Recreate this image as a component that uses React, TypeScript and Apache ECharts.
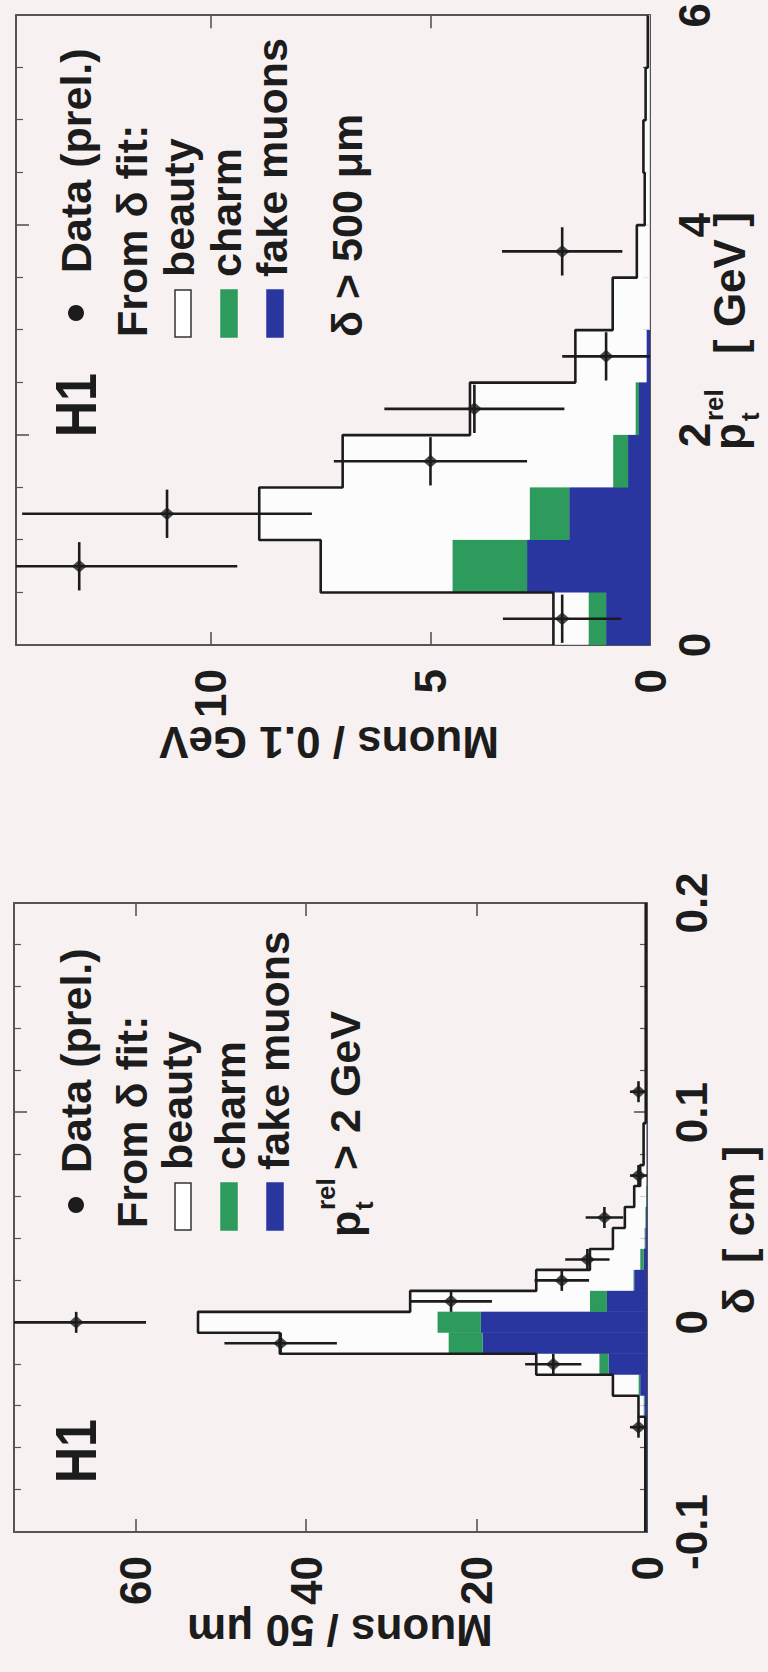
import React, { useEffect, useRef } from "react";
import * as echarts from "echarts";

// ---------- data: lower panel (delta distribution, pt_rel > 2 GeV) ----------
const deltaEdges = [-0.1, -0.045, -0.035, -0.025, -0.015, -0.005, 0.005, 0.015, 0.025, 0.035, 0.045, 0.055, 0.065, 0.075, 0.095, 0.2];
const deltaFake = [0.1, 0.3, 0.8, 4.5, 19.3, 19.5, 4.7, 1.5, 0.4, 0.2, 0.1, 0.05, 0.05, 0.05, 0];
const deltaCharm = [0.05, 0.1, 0.2, 1.1, 4.0, 5.1, 2.0, 0.1, 0.4, 0.1, 0.1, 0.05, 0, 0, 0];
const deltaBeauty = [0.05, 0.6, 3.0, 7.4, 19.8, 28.1, 21.1, 11.4, 5.9, 3.7, 2.4, 1.4, 0.75, 0.35, 0.15];
const deltaPtsX = [-0.05, -0.02, -0.01, 0.0, 0.01, 0.02, 0.03, 0.05, 0.07, 0.11];
const deltaPtsY = [1, 11, 43, 67, 23, 10, 7, 5, 1, 1];
const deltaPtsErr = [1.0, 3.3, 6.6, 8.2, 4.8, 3.2, 2.6, 2.2, 1.0, 1.0];
const deltaHalfWidth = 0.005;
const deltaTicks = { min: -0.1, max: 0.2, interval: 0.1 };
const deltaCountMax = 74.3;
const deltaCountInterval = 20;

// ---------- data: upper panel (pt_rel distribution, delta > 500 um) ----------
const ptEdges = [0, 0.5, 1, 1.5, 2, 2.5, 3, 3.5, 4, 4.5, 5, 5.5, 6];
const ptFake = [1.0, 2.8, 1.84, 0.5, 0.25, 0.08, 0, 0, 0, 0, 0, 0];
const ptCharm = [0.4, 1.7, 0.9, 0.34, 0.08, 0, 0, 0, 0, 0, 0, 0];
const ptBeauty = [0.8, 3.0, 6.16, 6.16, 3.77, 1.62, 0.85, 0.3, 0.12, 0.15, 0.1, 0.05];
const ptPtsX = [0.25, 0.75, 1.25, 1.75, 2.25, 2.75, 3.75];
const ptPtsY = [2, 13, 11, 5, 4, 1, 2];
const ptPtsErr = [1.35, 3.6, 3.3, 2.2, 2.05, 1.0, 1.37];
const ptHalfWidth = 0.23;
const ptTicks = { min: 0, max: 6, interval: 2 };
const ptCountMax = 14.44;
const ptCountInterval = 5;

// ---------- style ----------
const BG = "#f8f1f1";
const INK = "#1c1c1c";
const FRAME = "#555555";
const BLUE = "#2a36a0";
const GREEN = "#2d9b5c";
const WHITE = "rgba(255,255,255,0.75)";
const FONT = '"Liberation Sans", Arial, Helvetica, sans-serif';

function binData(edges: number[], f: number[], c: number[], b: number[]) {
  return f.map((_, i) => [edges[i], edges[i + 1], f[i], c[i], b[i]]);
}
function outlineData(edges: number[], f: number[], c: number[], b: number[]) {
  const tot = f.map((v, i) => v + c[i] + b[i]);
  const pts = tot.map((t, i) => [edges[i], t]);
  pts.push([edges[edges.length - 1], tot[tot.length - 1]]);
  return pts;
}
function pointData(xs: number[], ys: number[], es: number[], hw: number) {
  return xs.map((x, i) => [x, ys[i], hw, es[i]]);
}

const fillRender = (params: any, api: any) => {
  const x0 = api.value(0), x1 = api.value(1);
  const f = api.value(2), c = api.value(3), b = api.value(4);
  const rect = (lo: number, hi: number, color: string) => {
    const p0 = api.coord([x0, lo]);
    const p1 = api.coord([x1, hi]);
    return {
      type: "rect",
      shape: { x: p0[0], y: p1[1], width: p1[0] - p0[0] + 0.6, height: p0[1] - p1[1] },
      style: { fill: color },
    };
  };
  return {
    type: "group",
    children: [rect(0, f, BLUE), rect(f, f + c, GREEN), rect(f + c, f + c + b, WHITE)],
  };
};

const errRender = (params: any, api: any) => {
  const cs = params.coordSys;
  const clampY = (v: number) => Math.max(cs.y, Math.min(cs.y + cs.height, v));
  const clampX = (v: number) => Math.max(cs.x, Math.min(cs.x + cs.width, v));
  const x = api.value(0), y = api.value(1), hw = api.value(2), e = api.value(3);
  const a = api.coord([x - hw, y]);
  const b = api.coord([x + hw, y]);
  const c = api.coord([x, y - e]);
  const d = api.coord([x, y + e]);
  const st = { stroke: INK, lineWidth: 2.6 };
  return {
    type: "group",
    children: [
      { type: "line", shape: { x1: clampX(a[0]), y1: a[1], x2: clampX(b[0]), y2: b[1] }, style: st },
      { type: "line", shape: { x1: c[0], y1: clampY(c[1]), x2: d[0], y2: clampY(d[1]) }, style: st },
    ],
  };
};

const labelStyle = { fontSize: 44, fontWeight: "bold" as const, color: INK, fontFamily: FONT };

function xAxisPair(grid: number, t: { min: number; max: number; interval: number }, minorSplit: number) {
  const base = {
    gridIndex: grid,
    type: "value",
    min: t.min,
    max: t.max,
    interval: t.interval,
    axisLine: { onZero: false, lineStyle: { color: FRAME, width: 2 } },
    axisTick: { inside: true, length: 13, lineStyle: { color: FRAME, width: 1.6 } },
    minorTick: { show: true, splitNumber: minorSplit, length: 7, lineStyle: { color: FRAME, width: 1.2 } },
    splitLine: { show: false },
    minorSplitLine: { show: false },
  };
  return [
    { ...base, position: "bottom", axisLabel: { ...labelStyle, margin: 22 } },
    { ...base, position: "top", axisLabel: { show: false } },
  ];
}
function yAxisPair(grid: number, max: number, interval: number) {
  const base = {
    gridIndex: grid,
    type: "value",
    min: 0,
    max,
    interval,
    axisLine: { onZero: false, lineStyle: { color: FRAME, width: 2 } },
    axisTick: { inside: true, length: 13, lineStyle: { color: FRAME, width: 1.6 } },
    splitLine: { show: false },
  };
  return [
    {
      ...base,
      position: "left",
      axisLabel: {
        ...labelStyle,
        margin: 24,
        formatter: (v: number) => (Math.abs(v / interval - Math.round(v / interval)) < 1e-6 ? String(v) : ""),
      },
    },
    { ...base, position: "right", axisLabel: { show: false } },
  ];
}

function txt(text: string, x: number, y: number, size = 43, align = "left", extra: any = {}) {
  return {
    type: "text",
    x,
    y,
    z: 50,
    ...extra,
    style: { text, fontSize: size, fontWeight: "bold", fontFamily: FONT, fill: INK, align, verticalAlign: "middle" },
  };
}
function box(x: number, y: number, h: number, fill: string, stroke: string) {
  return { type: "rect", z: 50, shape: { x, y, width: 47, height: h }, style: { fill, stroke, lineWidth: 1.5 } };
}

function legend(
  h1x: number, bulletX: number, dataX: number, fromX: number, boxX: number, itemX: number,
  ys: { beauty: number; charm: number; fake: number }
) {
  return [
    txt("H1", h1x, 76, 50, "left", { scaleY: 1.15 }),
    { type: "circle", z: 50, shape: { cx: bulletX, cy: 76, r: 8 }, style: { fill: INK } },
    txt("Data (prel.)", dataX, 76),
    txt("From \u03b4 fit:", fromX, 132),
    box(boxX, 175, 16, "#ffffff", "#333333"),
    box(boxX, 221, 16, GREEN, GREEN),
    box(boxX, 267, 16, BLUE, BLUE),
    txt("beauty", itemX, ys.beauty),
    txt("charm", itemX, ys.charm),
    txt("fake muons", itemX, ys.fake),
  ];
}

const graphics = [
  // lower (delta) panel legend
  ...legend(189, 467, 499, 444, 442, 502, { beauty: 177, charm: 230, fake: 274 }),
  txt("p", 435, 345),
  txt("rel", 462, 326, 26),
  txt("t", 462, 364, 26),
  txt("> 2 GeV", 502, 345),
  // upper (pt) panel legend
  ...legend(1235, 1359, 1399, 1335, 1335, 1395, { beauty: 179, charm: 226, fake: 272 }),
  txt("\u03b4 > 500 \u03bcm", 1335, 347),
  // axis titles
  txt("Muons / 50 \u03bcm", 42, 340, 44, "center", { rotation: Math.PI / 2 }),
  txt("Muons / 0.1 GeV", 930, 329, 44, "center", { rotation: Math.PI / 2 }),
  txt("\u03b4  [ cm ]", 442, 738, 44, "center"),
  txt("p", 1222, 729, 44),
  txt("rel", 1251, 714, 26),
  txt("t", 1251, 750, 26),
  txt("[ GeV ]", 1318, 729, 44),
];

function panelSeries(
  axisIdx: [number, number],
  edges: number[], f: number[], c: number[], b: number[],
  px: number[], py: number[], pe: number[], hw: number
) {
  const [xi, yi] = axisIdx;
  return [
    {
      type: "custom",
      xAxisIndex: xi,
      yAxisIndex: yi,
      renderItem: fillRender,
      data: binData(edges, f, c, b),
      encode: { x: [0, 1], y: [2] },
      clip: true,
      z: 1,
      silent: true,
    },
    {
      type: "line",
      xAxisIndex: xi,
      yAxisIndex: yi,
      step: "end",
      symbol: "none",
      data: outlineData(edges, f, c, b),
      lineStyle: { color: INK, width: 2.6 },
      z: 3,
      silent: true,
    },
    {
      type: "custom",
      xAxisIndex: xi,
      yAxisIndex: yi,
      renderItem: errRender,
      data: pointData(px, py, pe, hw),
      encode: { x: [0], y: [1] },
      clip: true,
      z: 4,
      silent: true,
    },
    {
      type: "scatter",
      xAxisIndex: xi,
      yAxisIndex: yi,
      symbol: "diamond",
      symbolSize: [13, 15],
      itemStyle: { color: INK },
      data: px.map((x, i) => [x, py[i]]),
      z: 5,
      silent: true,
    },
  ];
}

const option: any = {
  animation: false,
  backgroundColor: BG,
  grid: [
    { left: 140, top: 14, width: 629, height: 633 },
    { left: 1027, top: 16, width: 631, height: 634 },
  ],
  xAxis: [...xAxisPair(0, deltaTicks, 5), ...xAxisPair(1, ptTicks, 4)],
  yAxis: [...yAxisPair(0, deltaCountMax, deltaCountInterval), ...yAxisPair(1, ptCountMax, ptCountInterval)],
  series: [
    ...panelSeries([0, 0], deltaEdges, deltaFake, deltaCharm, deltaBeauty, deltaPtsX, deltaPtsY, deltaPtsErr, deltaHalfWidth),
    ...panelSeries([2, 2], ptEdges, ptFake, ptCharm, ptBeauty, ptPtsX, ptPtsY, ptPtsErr, ptHalfWidth),
  ],
  graphic: graphics,
};

export default function App() {
  const ref = useRef<HTMLDivElement>(null);
  useEffect(() => {
    if (!ref.current) return;
    const chart = echarts.init(ref.current, null, { renderer: "svg" });
    chart.setOption(option);
    return () => chart.dispose();
  }, []);
  return (
    <div
      style={{
        position: "absolute",
        left: 0,
        top: 0,
        width: 768,
        height: 1672,
        overflow: "hidden",
        background: BG,
      }}
    >
      <div
        ref={ref}
        style={{
          position: "absolute",
          left: 0,
          top: 0,
          width: 1672,
          height: 768,
          transform: "translate(0px, 1672px) rotate(-90deg)",
          transformOrigin: "0 0",
        }}
      />
    </div>
  );
}
